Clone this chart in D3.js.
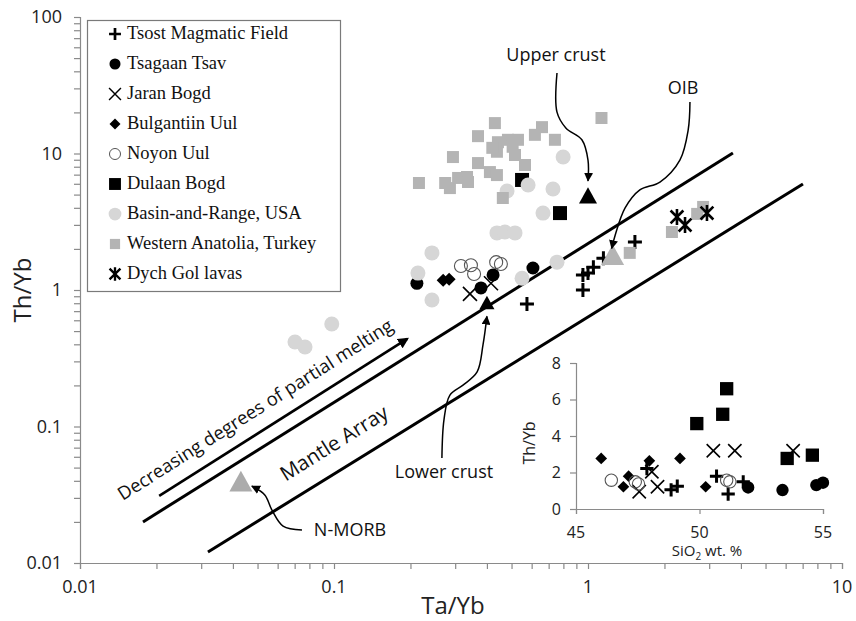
<!DOCTYPE html>
<html>
<head>
<meta charset="utf-8">
<script src="https://cdn.jsdelivr.net/npm/d3@7"></script>
<style>
  body { margin: 0; background: #fff; }
  svg { display: block; }
</style>
</head>
<body>
<svg id="chart" width="856" height="621"></svg>
<script>
// ---- Main diagram: [Ta/Yb, Th/Yb] per locality ----
const tsost = [[0.575, 0.79], [0.955, 1.00], [0.955, 1.29], [1.00, 1.33], [1.05, 1.47], [1.15, 1.71], [1.53, 2.25]];
const tsagaan = [[0.212, 1.12], [0.379, 1.035], [0.423, 1.29], [0.607, 1.45]];
const jaran = [[0.343, 0.936], [0.415, 1.12]];
const bulgantiin = [[0.269, 1.18], [0.284, 1.20]];
const noyon = [[0.316, 1.50], [0.346, 1.52], [0.356, 1.31], [0.435, 1.60], [0.454, 1.55]];
const dulaan = [[0.550, 6.40], [0.776, 3.66]];
const basinRange = [
  [0.798, 9.42], [0.581, 5.88], [0.480, 5.31], [0.728, 5.49], [0.665, 3.66],
  [0.438, 2.62], [0.471, 2.66], [0.516, 2.62], [0.243, 1.87], [0.214, 1.33],
  [0.243, 0.845], [0.550, 1.22], [0.755, 1.60], [0.098, 0.563], [0.0702, 0.416],
  [0.0769, 0.382]
];
const anatolia = [
  [0.216, 6.08], [0.274, 6.08], [0.286, 5.58], [0.308, 6.62], [0.334, 6.73],
  [0.337, 6.18], [0.294, 9.42], [0.369, 8.51], [0.411, 7.31], [0.438, 6.95],
  [0.369, 13.4], [0.430, 16.7], [0.442, 12.1], [0.438, 10.3], [0.484, 12.6],
  [0.530, 12.6], [0.516, 9.75], [0.565, 8.24], [0.618, 13.7], [0.659, 15.6],
  [0.741, 12.6], [0.462, 4.72], [0.420, 11.0], [0.505, 11.2], [1.13, 18.2],
  [1.46, 1.87], [2.14, 2.66], [2.69, 3.61], [2.84, 4.06]
];
const dychGol = [[2.24, 3.43], [2.41, 2.99], [2.94, 3.66]];

// Reference compositions
const refNames = ["N-MORB", "Lower crust", "Upper crust", "OIB"];
const refTaYb = [0.043, 0.40, 1.00, 1.25];
const refThYb = [0.039, 0.80, 4.86, 1.78];

// Mantle array bounds and partial-melting trend arrow
const mantleUpper = [[0.0177, 0.020], [3.72, 10.1]];
const mantleLower = [[0.0319, 0.01205], [7.02, 5.98]];
const meltingArrow = [[0.0205, 0.031], [0.194, 0.438]];

// Leader curves from labels to reference compositions
const upperCrustLeader = [[0.755, 38.9], [0.755, 20.1], [0.818, 15.4], [0.946, 12.6], [1.0, 8.95], [1.0, 6.3]];
const oibLeader = [[2.52, 23.8], [2.48, 14.9], [2.30, 8.95], [1.92, 6.18], [1.60, 5.41], [1.40, 3.99], [1.28, 2.53], [1.24, 2.02]];
const lowerCrustLeader = [[0.266, 0.0587], [0.271, 0.112], [0.286, 0.170], [0.322, 0.201], [0.366, 0.251], [0.386, 0.396], [0.400, 0.64]];
const nmorbLeader = [[0.0748, 0.01746], [0.0630, 0.01866], [0.0570, 0.0244], [0.0534, 0.0315], [0.0475, 0.0366]];

// Axis ticks
const xTicks = [0.01, 0.1, 1, 10];
const xTickLabels = ["0.01", "0.1", "1", "10"];
const yTicks = [0.01, 0.1, 1, 10, 100];
const yTickLabels = ["0.01", "0.1", "1", "10", "100"];

// ---- Inset: [SiO2 wt.%, Th/Yb] ----
const insetTsost = [[47.87, 2.22], [48.85, 1.05], [49.10, 1.25], [50.69, 1.80], [51.16, 0.82], [51.77, 1.49]];
const insetTsagaan = [[51.97, 1.18], [53.36, 1.04], [54.73, 1.31], [55.0, 1.44]];
const insetJaran = [[47.56, 0.95], [48.30, 1.22], [48.07, 2.04], [50.56, 3.19], [51.43, 3.19], [53.79, 3.19]];
const insetBulgantiin = [[46.02, 2.77], [46.92, 1.22], [47.13, 1.80], [47.97, 2.64], [49.21, 2.77], [50.25, 1.22]];
const insetNoyon = [[46.43, 1.58], [47.40, 1.49], [47.53, 1.37], [51.10, 1.58], [51.23, 1.49]];
const insetDulaan = [[49.89, 4.68], [50.94, 5.19], [51.10, 6.59], [53.55, 2.77], [54.57, 2.95]];
const insetXTicks = [45, 50, 55];
const insetYTicks = [0, 2, 4, 6, 8];

// Legend
const legendNames = ["Tsost Magmatic Field", "Tsagaan Tsav", "Jaran Bogd", "Bulgantiin Uul", "Noyon Uul",
  "Dulaan Bogd", "Basin-and-Range, USA", "Western Anatolia, Turkey", "Dych Gol lavas"];

// ---- Marker styles ----
const styles = {
  tsost:      { shape: "plus",    size: 14, fill: "none",    stroke: "#000",    sw: 3 },
  tsagaan:    { shape: "circle",  size: 13, fill: "#000",    stroke: "none",    sw: 0 },
  jaran:      { shape: "cross",   size: 14, fill: "none",    stroke: "#000",    sw: 1.6 },
  bulgantiin: { shape: "diamond", size: 13, fill: "#000",    stroke: "none",    sw: 0 },
  noyon:      { shape: "circle",  size: 13, fill: "none",    stroke: "#555",    sw: 1.1 },
  dulaan:     { shape: "square",  size: 14, fill: "#000",    stroke: "none",    sw: 0 },
  basin:      { shape: "circle",  size: 15, fill: "#d6d6d6", stroke: "none",    sw: 0 },
  anatolia:   { shape: "square",  size: 12, fill: "#b4b4b4", stroke: "none",    sw: 0 },
  dych:       { shape: "star",    size: 16, fill: "none",    stroke: "#000",    sw: 2.6 }
};

function markerPath(shape, s) {
  const h = s / 2;
  switch (shape) {
    case "plus": return `M${-h},0H${h}M0,${-h}V${h}`;
    case "cross": return `M${-h},${-h}L${h},${h}M${-h},${h}L${h},${-h}`;
    case "star": {
      const k = h * 0.8;
      return `M${-k},${-k}L${k},${k}M${-k},${k}L${k},${-k}M0,${-h}V${h}`;
    }
    case "diamond": return `M0,${-h}L${h},0L0,${h}L${-h},0Z`;
    case "square": return `M${-h},${-h}H${h}V${h}H${-h}Z`;
    case "triangle": return `M0,${-h}L${h},${h * 0.8}L${-h},${h * 0.8}Z`;
    default: return d3.arc()({ innerRadius: 0, outerRadius: h, startAngle: 0, endAngle: 2 * Math.PI });
  }
}

function drawMarkers(g, data, xs, ys, st, scale = 1) {
  g.append("g").selectAll("path").data(data).join("path")
    .attr("d", markerPath(st.shape, st.size * scale))
    .attr("transform", d => `translate(${xs(d[0])},${ys(d[1])})`)
    .attr("fill", st.fill)
    .attr("stroke", st.stroke)
    .attr("stroke-width", st.sw)
    .attr("stroke-linecap", "butt");
}

const svg = d3.select("#chart");
const sans = "'Open Sans', 'DejaVu Sans', sans-serif";
const serif = "'Liberation Serif', 'Times New Roman', serif";

// Arrowhead
const defs = svg.append("defs");
defs.append("marker").attr("id", "head").attr("viewBox", "0 0 10 10")
  .attr("refX", 9).attr("refY", 5).attr("markerWidth", 9).attr("markerHeight", 9)
  .attr("markerUnits", "userSpaceOnUse").attr("orient", "auto")
  .append("path").attr("d", "M0,0L10,5L0,10Z").attr("fill", "#000");
defs.append("marker").attr("id", "headBig").attr("viewBox", "0 0 10 10")
  .attr("refX", 8).attr("refY", 5).attr("markerWidth", 11).attr("markerHeight", 11)
  .attr("markerUnits", "userSpaceOnUse").attr("orient", "auto")
  .append("path").attr("d", "M0,0L10,5L0,10Z").attr("fill", "#000");

// ---- Scales ----
const x = d3.scaleLog().domain([0.01, 10]).range([80, 842]);
const y = d3.scaleLog().domain([0.01, 100]).range([563, 17]);

// ---- Axes ----
const axisColor = "#8a8a8a";
const xAxis = d3.axisBottom(x).tickValues(d3.range(-2, 1).flatMap(e => d3.range(1, 10).map(m => m * 10 ** e)).concat([10]))
  .tickSize(6).tickFormat("");
const gx = svg.append("g").attr("transform", `translate(0,${y.range()[0]})`).call(xAxis);
const yAxis = d3.axisLeft(y).tickValues(d3.range(-2, 2).flatMap(e => d3.range(1, 10).map(m => m * 10 ** e)).concat([100]))
  .tickSize(6).tickFormat("");
const gy = svg.append("g").attr("transform", `translate(${x.range()[0]},0)`).call(yAxis);
[gx, gy].forEach(g => {
  g.select(".domain").attr("stroke", axisColor).attr("stroke-width", 1.2);
  g.selectAll(".tick line").attr("stroke", axisColor).attr("stroke-width", 1.2);
});

svg.append("g").selectAll("text").data(xTicks).join("text")
  .attr("x", d => x(d)).attr("y", 593)
  .attr("text-anchor", "middle").attr("font-family", sans).attr("font-size", 18).attr("fill", "#222")
  .text((d, i) => xTickLabels[i]);
svg.append("g").selectAll("text").data(yTicks).join("text")
  .attr("x", 62).attr("y", d => y(d)).attr("dy", "0.36em")
  .attr("text-anchor", "end").attr("font-family", sans).attr("font-size", 18).attr("fill", "#222")
  .text((d, i) => yTickLabels[i]);

svg.append("text").attr("x", 453).attr("y", 614).attr("text-anchor", "middle")
  .attr("font-family", sans).attr("font-size", 24).attr("fill", "#222").text("Ta/Yb");
svg.append("text").attr("transform", "translate(31,290) rotate(-90)").attr("text-anchor", "middle")
  .attr("font-family", sans).attr("font-size", 24).attr("fill", "#222").text("Th/Yb");

// ---- Mantle array and trend arrow ----
const line = d3.line().x(d => x(d[0])).y(d => y(d[1]));
[mantleUpper, mantleLower].forEach(seg => {
  svg.append("path").attr("d", line(seg)).attr("stroke", "#000").attr("stroke-width", 3).attr("fill", "none");
});
svg.append("path").attr("d", line(meltingArrow)).attr("stroke", "#000").attr("stroke-width", 2.6)
  .attr("fill", "none").attr("marker-end", "url(#headBig)");

const angleOf = seg => Math.atan2(y(seg[1][1]) - y(seg[0][1]), x(seg[1][0]) - x(seg[0][0])) * 180 / Math.PI;
const meltAngle = angleOf(meltingArrow);
const mantleAngle = angleOf(mantleUpper);

svg.append("text")
  .attr("transform", `translate(${x(0.01475)},${y(0.0284)}) rotate(${meltAngle})`)
  .attr("font-family", sans).attr("font-size", 18.5).attr("fill", "#111")
  .text("Decreasing degrees of partial melting");
svg.append("text")
  .attr("transform", `translate(${x(0.1)},${y(0.0757)}) rotate(${mantleAngle})`)
  .attr("text-anchor", "middle").attr("dy", "0.35em")
  .attr("font-family", sans).attr("font-size", 20.5).attr("fill", "#111")
  .text("Mantle Array");

// ---- Data series (drawn in legend order) ----
drawMarkers(svg, tsost, x, y, styles.tsost);
drawMarkers(svg, tsagaan, x, y, styles.tsagaan);
drawMarkers(svg, jaran, x, y, styles.jaran);
drawMarkers(svg, bulgantiin, x, y, styles.bulgantiin);
drawMarkers(svg, noyon, x, y, styles.noyon);
drawMarkers(svg, dulaan, x, y, styles.dulaan);
drawMarkers(svg, basinRange, x, y, styles.basin);
drawMarkers(svg, anatolia, x, y, styles.anatolia);
drawMarkers(svg, dychGol, x, y, styles.dych);

// ---- Reference compositions ----
const refStyle = [
  { size: 23, fill: "#ababab" },
  { size: 15, fill: "#000" },
  { size: 18, fill: "#000" },
  { size: 23, fill: "#b4b4b4" }
];
svg.append("g").selectAll("path").data(refNames).join("path")
  .attr("d", (d, i) => markerPath("triangle", refStyle[i].size))
  .attr("transform", (d, i) => `translate(${x(refTaYb[i])},${y(refThYb[i])})`)
  .attr("fill", (d, i) => refStyle[i].fill);

// Labels and leader curves
const curve = d3.line().x(d => x(d[0])).y(d => y(d[1])).curve(d3.curveCatmullRom.alpha(0.5));
[upperCrustLeader, oibLeader, lowerCrustLeader, nmorbLeader].forEach(pts => {
  svg.append("path").attr("d", curve(pts)).attr("fill", "none").attr("stroke", "#000")
    .attr("stroke-width", 1.5).attr("marker-end", "url(#head)");
});
const labelPos = [[0.1156, 0.01578], [0.271, 0.042], [0.748, 47.6], [2.37, 27.3]];
svg.append("g").selectAll("text").data(refNames).join("text")
  .attr("x", (d, i) => x(labelPos[i][0])).attr("y", (d, i) => y(labelPos[i][1]))
  .attr("text-anchor", "middle").attr("font-family", sans).attr("font-size", 18).attr("fill", "#111")
  .text(d => d);

// ---- Legend ----
const legend = svg.append("g");
legend.append("rect").attr("x", 87.5).attr("y", 20.5).attr("width", 253).attr("height", 271)
  .attr("fill", "#fff").attr("stroke", "#7a7a7a").attr("stroke-width", 1.2);
const legendStyles = [styles.tsost, styles.tsagaan, styles.jaran, styles.bulgantiin, styles.noyon,
  styles.dulaan, styles.basin, styles.anatolia, styles.dych];
legendNames.forEach((name, i) => {
  const cy = 33 + i * 30;
  const st = legendStyles[i];
  legend.append("path").attr("d", markerPath(st.shape, st.size * 0.85))
    .attr("transform", `translate(115,${cy + 1})`)
    .attr("fill", st.fill).attr("stroke", st.stroke).attr("stroke-width", st.sw * 0.9);
  legend.append("text").attr("x", 127).attr("y", cy).attr("dy", "0.33em")
    .attr("font-family", serif).attr("font-size", 18.5).attr("fill", "#111").text(name);
});

// ---- Inset: Th/Yb vs SiO2 ----
const xi = d3.scaleLinear().domain([45, 55]).range([576, 823]);
const yi = d3.scaleLinear().domain([0, 8]).range([509, 363]);
const inset = svg.append("g");
const gxi = inset.append("g").attr("transform", `translate(0,${yi(0)})`)
  .call(d3.axisBottom(xi).tickValues(insetXTicks).tickSize(5).tickFormat(""));
const gyi = inset.append("g").attr("transform", `translate(${xi(45)},0)`)
  .call(d3.axisLeft(yi).tickValues(insetYTicks).tickSize(6).tickFormat(""));
[gxi, gyi].forEach(g => {
  g.select(".domain").attr("stroke", axisColor).attr("stroke-width", 1.2);
  g.selectAll(".tick line").attr("stroke", axisColor).attr("stroke-width", 1.2);
});
inset.append("g").selectAll("text").data(insetXTicks).join("text")
  .attr("x", d => xi(d)).attr("y", 538).attr("text-anchor", "middle")
  .attr("font-family", sans).attr("font-size", 16).attr("fill", "#222").text(d => d);
inset.append("g").selectAll("text").data(insetYTicks).join("text")
  .attr("x", 561).attr("y", d => yi(d)).attr("dy", "0.36em").attr("text-anchor", "end")
  .attr("font-family", sans).attr("font-size", 16).attr("fill", "#222").text(d => d);
const sio2 = inset.append("text").attr("x", 707).attr("y", 556).attr("text-anchor", "middle")
  .attr("font-family", sans).attr("font-size", 15).attr("fill", "#222");
sio2.append("tspan").text("SiO");
sio2.append("tspan").attr("font-size", 10).attr("dy", 4).text("2");
sio2.append("tspan").attr("dy", -4).text(" wt. %");
inset.append("text").attr("transform", "translate(535,443) rotate(-90)").attr("text-anchor", "middle")
  .attr("font-family", sans).attr("font-size", 16).attr("fill", "#222").text("Th/Yb");

drawMarkers(inset, insetTsost, xi, yi, styles.tsost, 0.95);
drawMarkers(inset, insetTsagaan, xi, yi, styles.tsagaan, 0.95);
drawMarkers(inset, insetJaran, xi, yi, styles.jaran, 0.95);
drawMarkers(inset, insetBulgantiin, xi, yi, styles.bulgantiin, 0.9);
drawMarkers(inset, insetNoyon, xi, yi, styles.noyon, 0.95);
drawMarkers(inset, insetDulaan, xi, yi, styles.dulaan, 0.95);
</script>
</body>
</html>
